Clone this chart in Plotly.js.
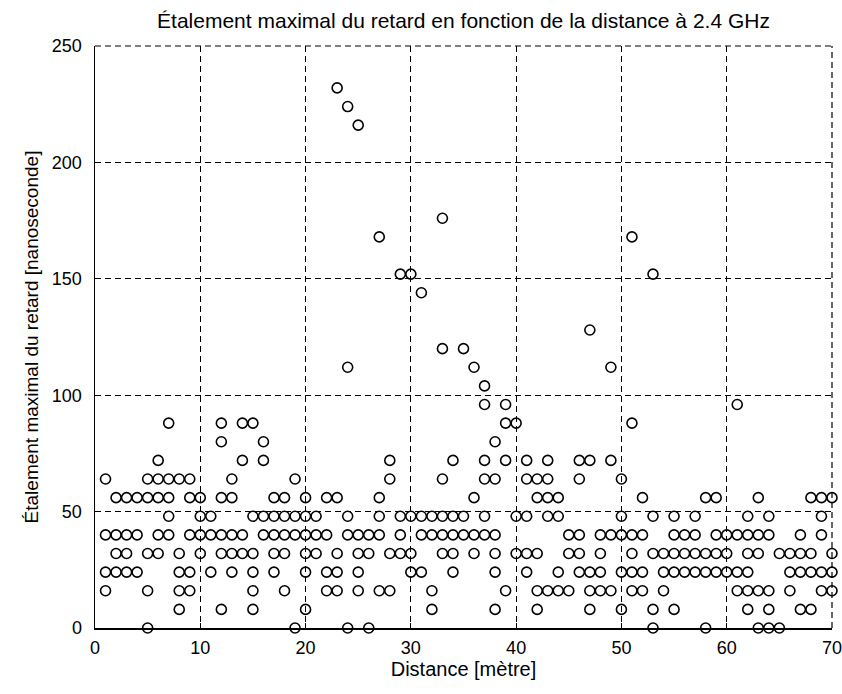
<!DOCTYPE html>
<html>
<head>
<meta charset="utf-8">
<script src="https://cdn.plot.ly/plotly-3.0.1.min.js"></script>
<style>html,body{margin:0;padding:0;background:#fff}</style>
</head>
<body>
<div id="chart" style="width:842px;height:694px"></div>
<script>
// Delay levels (ns) and the distances (m) at which each level was measured
const delayLevels = [0, 8, 16, 24, 32, 40, 48, 56, 64, 72, 80, 88, 96, 104, 112, 120, 128, 144, 152, 168, 176, 216, 224, 232];
const dist0   = [5, 19, 24, 26, 53, 58, 63, 64, 65];
const dist8   = [8, 12, 15, 20, 32, 38, 42, 47, 50, 53, 55, 62, 64, 67, 68];
const dist16  = [1, 5, 8, 9, 15, 18, 22, 23, 25, 27, 28, 32, 39, 42, 43, 44, 45, 47, 48, 49, 51, 52, 54, 61, 62, 63, 64, 66, 69, 70];
const dist24  = [1, 2, 3, 4, 8, 9, 11, 13, 15, 17, 20, 22, 23, 25, 30, 31, 34, 38, 41, 44, 46, 47, 48, 50, 51, 52, 54, 55, 56, 57, 58, 59, 60, 61, 62, 66, 67, 68, 69, 70];
const dist32  = [2, 3, 5, 6, 8, 10, 12, 13, 14, 15, 17, 18, 20, 21, 23, 25, 26, 28, 29, 30, 33, 34, 36, 38, 40, 41, 42, 45, 46, 48, 51, 53, 54, 55, 56, 57, 58, 59, 60, 62, 63, 65, 66, 67, 68, 70];
const dist40  = [1, 2, 3, 4, 6, 7, 9, 10, 11, 12, 13, 14, 16, 17, 18, 19, 20, 21, 22, 24, 25, 26, 27, 29, 31, 32, 33, 34, 35, 36, 37, 38, 45, 46, 48, 49, 50, 51, 52, 55, 56, 57, 59, 60, 61, 62, 63, 64, 67, 69];
const dist48  = [7, 10, 11, 15, 16, 17, 18, 19, 20, 21, 24, 27, 29, 30, 31, 32, 33, 34, 35, 37, 40, 41, 43, 44, 50, 53, 55, 57, 62, 64, 69];
const dist56  = [2, 3, 4, 5, 6, 7, 9, 10, 12, 13, 17, 18, 20, 22, 23, 27, 36, 42, 43, 44, 52, 58, 59, 63, 68, 69, 70];
const dist64  = [1, 5, 6, 7, 8, 9, 13, 19, 28, 33, 37, 38, 41, 42, 43, 46, 50];
const dist72  = [6, 14, 16, 28, 34, 37, 39, 41, 43, 46, 47, 49];
const dist80  = [12, 16, 38];
const dist88  = [7, 12, 14, 15, 39, 40, 51];
const dist96  = [37, 39, 61];
const dist104 = [37];
const dist112 = [24, 36, 49];
const dist120 = [33, 35];
const dist128 = [47];
const dist144 = [31];
const dist152 = [29, 30, 53];
const dist168 = [27, 51];
const dist176 = [33];
const dist216 = [25];
const dist224 = [24];
const dist232 = [23];

const distLists = [dist0, dist8, dist16, dist24, dist32, dist40, dist48, dist56, dist64, dist72, dist80, dist88, dist96, dist104, dist112, dist120, dist128, dist144, dist152, dist168, dist176, dist216, dist224, dist232];

const xTickVals = [0, 10, 20, 30, 40, 50, 60, 70];
const yTickVals = [0, 50, 100, 150, 200, 250];

const xs = [], ys = [];
distLists.forEach((list, i) => {
  list.forEach(d => { xs.push(d); ys.push(delayLevels[i]); });
});

const font = "'Liberation Sans', Arial, sans-serif";

const trace = {
  x: xs, y: ys, type: 'scatter', mode: 'markers',
  marker: {symbol: 'circle-open', size: 10, color: '#000', line: {width: 1.6, color: '#000'}},
  hoverinfo: 'x+y', cliponaxis: false
};

const layout = {
  width: 842, height: 694, autosize: false,
  margin: {l: 95, r: 10, t: 46, b: 66},
  paper_bgcolor: '#fff', plot_bgcolor: '#fff',
  showlegend: false,
  font: {family: font, size: 18, color: '#000'},
  title: {text: 'Étalement maximal du retard en fonction de la distance à 2.4 GHz',
          font: {family: font, size: 21, color: '#000'},
          x: 0.5, xref: 'paper', y: 1 - 21/694, yref: 'container', yanchor: 'middle'},
  xaxis: {
    range: [0, 70.001], tickvals: xTickVals, ticktext: xTickVals.map(String),
    showgrid: true, gridcolor: '#000', griddash: '6px,4px', gridwidth: 1,
    showline: true, linecolor: '#000', linewidth: 1.5, mirror: false,
    ticks: 'inside', ticklen: 5, tickcolor: '#000', zeroline: false,
    ticklabelstandoff: 3, ticklabeloverflow: 'allow', automargin: false,
    tickfont: {family: font, size: 18, color: '#000'},
    title: {text: 'Distance [mètre]', font: {family: font, size: 20, color: '#000'}, standoff: 2}
  },
  yaxis: {
    range: [0, 250], tickvals: yTickVals, ticktext: yTickVals.map(String),
    showgrid: true, gridcolor: '#000', griddash: '6px,4px', gridwidth: 1,
    showline: true, linecolor: '#000', linewidth: 1.5, mirror: false,
    ticks: 'inside', ticklen: 5, tickcolor: '#000', zeroline: false,
    ticklabelstandoff: 8, automargin: false,
    tickfont: {family: font, size: 18, color: '#000'},
    title: {text: 'Étalement maximal du retard [nanoseconde]', font: {family: font, size: 19, color: '#000'}, standoff: 8}
  },
  shapes: [
    {type: 'line', xref: 'paper', yref: 'paper', x0: 0, x1: 1, y0: 1, y1: 1, line: {color: '#000', width: 1.2, dash: '6px,4px'}},
    {type: 'line', xref: 'paper', yref: 'paper', x0: 1, x1: 1, y0: 0, y1: 1, line: {color: '#000', width: 1.2, dash: '6px,4px'}}
  ]
};

Plotly.newPlot('chart', [trace], layout, {staticPlot: true, displayModeBar: false});
</script>
</body>
</html>
